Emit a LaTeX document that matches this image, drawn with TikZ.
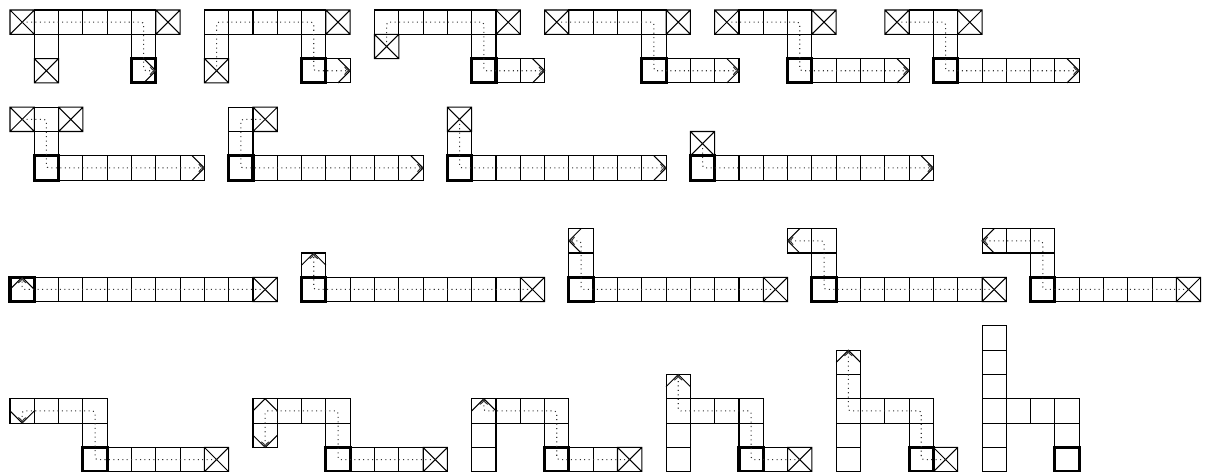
\documentclass[tikz,border=0pt]{standalone}
\usetikzlibrary{arrows.meta}

\tikzset{
  cellline/.style={line width=0.6pt},
  pivotline/.style={line width=1.8pt},
  walk/.style={dotted, line width=0.6pt, black!80, rounded corners=1.5pt, -{To[length=3.5pt,width=5pt]}},
}
% o vuong, o chet, o chot
\newcommand{\sq}[2]{\draw[cellline] (#1,#2) rectangle ++(1,1);}
\newcommand{\xsq}[2]{\draw[cellline] (#1,#2) rectangle ++(1,1) (#1,#2) -- ++(1,1) ++(0,-1) -- ++(-1,1);}
\newcommand{\pivot}[2]{\draw[pivotline] (#1,#2) rectangle ++(1,1);}
% dau mui ten trong o
\newcommand{\headR}[2]{\draw[cellline] (#1,#2) ++(0.5,0) -- ++(0.5,0.5) -- ++(-0.5,0.5);}
\newcommand{\headL}[2]{\draw[cellline] (#1,#2) ++(0.5,0) -- ++(-0.5,0.5) -- ++(0.5,0.5);}
\newcommand{\headU}[2]{\draw[cellline] (#1,#2) ++(0,0.5) -- ++(0.5,-0.5) -- ++(0.5,0.5);}
\newcommand{\headD}[2]{\draw[cellline] (#1,#2) ++(0,0.5) -- ++(0.5,0.5) -- ++(0.5,-0.5);}

\begin{document}
\begin{tikzpicture}[x=0.5cm, y=-0.5cm]
    \useasboundingbox (-0.4115,-0.4115) rectangle (49.465,19.012);

    % Hang 1
    \xsq{0}{0} \foreach \i in {1,...,5} {\sq{\i}{0}} \xsq{6}{0}
    \sq{1}{1} \sq{5}{1} \xsq{1}{2} \pivot{5}{2} \headR{5}{2}
    \draw[walk] (0.5,0.5) -- (5.5,0.5) -- (5.5,2.5) -- (6,2.5);

    \foreach \i in {8,...,12} {\sq{\i}{0}} \xsq{13}{0}
    \sq{8}{1} \sq{12}{1} \xsq{8}{2} \sq{13}{2} \headR{13}{2} \pivot{12}{2}
    \draw[walk] (8.5,2.5) -- (8.5,0.5) -- (12.5,0.5) -- (12.5,2.5) -- (14,2.5);

    \foreach \i in {15,...,19} {\sq{\i}{0}} \xsq{20}{0}
    \xsq{15}{1} \sq{19}{1} \sq{20}{2} \sq{21}{2} \headR{21}{2} \pivot{19}{2}
    \draw[walk] (15.5,1.5) -- (15.5,0.5) -- (19.5,0.5) -- (19.5,2.5) -- (22,2.5);

    \xsq{22}{0} \foreach \i in {23,...,26} {\sq{\i}{0}} \xsq{27}{0}
    \sq{26}{1} \foreach \i in {27,...,29} {\sq{\i}{2}} \headR{29}{2} \pivot{26}{2}
    \draw[walk] (22.5,0.5) -- (26.5,0.5) -- (26.5,2.5) -- (30,2.5);

    \xsq{29}{0} \foreach \i in {30,...,32} {\sq{\i}{0}} \xsq{33}{0}
    \sq{32}{1} \foreach \i in {33,...,36} {\sq{\i}{2}} \headR{36}{2} \pivot{32}{2}
    \draw[walk] (29.5,0.5) -- (32.5,0.5) -- (32.5,2.5) -- (37,2.5);

    \xsq{36}{0} \sq{37}{0} \sq{38}{0} \xsq{39}{0}
    \sq{38}{1} \foreach \i in {39,...,43} {\sq{\i}{2}} \headR{43}{2} \pivot{38}{2}
    \draw[walk] (36.5,0.5) -- (38.5,0.5) -- (38.5,2.5) -- (44,2.5);

    % Hang 2
    \xsq{0}{4} \sq{1}{4} \xsq{2}{4} \sq{1}{5}
    \foreach \i in {2,...,7} {\sq{\i}{6}} \headR{7}{6} \pivot{1}{6}
    \draw[walk] (0.5,4.5) -- (1.5,4.5) -- (1.5,6.5) -- (8,6.5);

    \sq{9}{4} \xsq{10}{4} \sq{9}{5}
    \foreach \i in {10,...,16} {\sq{\i}{6}} \headR{16}{6} \pivot{9}{6}
    \draw[walk] (10.5,4.5) -- (9.5,4.5) -- (9.5,6.5) -- (17,6.5);

    \xsq{18}{4} \sq{18}{5}
    \foreach \i in {19,...,26} {\sq{\i}{6}} \headR{26}{6} \pivot{18}{6}
    \draw[walk] (18.5,4.5) -- (18.5,6.5) -- (27,6.5);

    \xsq{28}{5}
    \foreach \i in {29,...,37} {\sq{\i}{6}} \headR{37}{6} \pivot{28}{6}
    \draw[walk] (28.5,5.5) -- (28.5,6.5) -- (38,6.5);

    % Hang 3
    \foreach \i in {1,...,9} {\sq{\i}{11}} \xsq{10}{11} \headU{0}{11} \pivot{0}{11}
    \draw[walk] (10.5,11.5) -- (0.5,11.5) -- (0.5,11);

    \sq{12}{10} \headU{12}{10}
    \foreach \i in {13,...,20} {\sq{\i}{11}} \xsq{21}{11} \pivot{12}{11}
    \draw[walk] (21.5,11.5) -- (12.5,11.5) -- (12.5,10);

    \sq{23}{9} \headL{23}{9} \sq{23}{10}
    \foreach \i in {24,...,30} {\sq{\i}{11}} \xsq{31}{11} \pivot{23}{11}
    \draw[walk] (31.5,11.5) -- (23.5,11.5) -- (23.5,9.5) -- (23,9.5);

    \sq{32}{9} \headL{32}{9} \sq{33}{9} \sq{33}{10}
    \foreach \i in {34,...,39} {\sq{\i}{11}} \xsq{40}{11} \pivot{33}{11}
    \draw[walk] (40.5,11.5) -- (33.5,11.5) -- (33.5,9.5) -- (32,9.5);

    \sq{40}{9} \headL{40}{9} \sq{41}{9} \sq{42}{9} \sq{42}{10}
    \foreach \i in {43,...,47} {\sq{\i}{11}} \xsq{48}{11} \pivot{42}{11}
    \draw[walk] (48.5,11.5) -- (42.5,11.5) -- (42.5,9.5) -- (40,9.5);

    % Hang 4
    \foreach \i in {0,...,3} {\sq{\i}{16}} \headD{0}{16} \sq{3}{17}
    \foreach \i in {4,...,7} {\sq{\i}{18}} \xsq{8}{18} \pivot{3}{18}
    \draw[walk] (8.5,18.5) -- (3.5,18.5) -- (3.5,16.5) -- (0.5,16.5) -- (0.5,17);

    \foreach \i in {10,...,13} {\sq{\i}{16}} \headU{10}{16} \sq{10}{17} \headD{10}{17} \sq{13}{17}
    \foreach \i in {14,...,16} {\sq{\i}{18}} \xsq{17}{18} \pivot{13}{18}
    \draw[walk] (17.5,18.5) -- (13.5,18.5) -- (13.5,16.5) -- (10.5,16.5) -- (10.5,18);

    \foreach \j in {16,...,18} {\sq{19}{\j}} \headU{19}{16}
    \foreach \i in {20,...,22} {\sq{\i}{16}} \sq{22}{17}
    \sq{23}{18} \sq{24}{18} \xsq{25}{18} \pivot{22}{18}
    \draw[walk] (25.5,18.5) -- (22.5,18.5) -- (22.5,16.5) -- (19.5,16.5) -- (19.5,16);

    \foreach \j in {15,...,18} {\sq{27}{\j}} \headU{27}{15}
    \foreach \i in {28,...,30} {\sq{\i}{16}} \sq{30}{17}
    \sq{31}{18} \xsq{32}{18} \pivot{30}{18}
    \draw[walk] (32.5,18.5) -- (30.5,18.5) -- (30.5,16.5) -- (27.5,16.5) -- (27.5,15);

    \foreach \j in {14,...,18} {\sq{34}{\j}} \headU{34}{14}
    \foreach \i in {35,...,37} {\sq{\i}{16}} \sq{37}{17}
    \xsq{38}{18} \pivot{37}{18}
    \draw[walk] (38.5,18.5) -- (37.5,18.5) -- (37.5,16.5) -- (34.5,16.5) -- (34.5,14);

    \foreach \j in {13,...,18} {\sq{40}{\j}}
    \foreach \i in {41,...,43} {\sq{\i}{16}} \sq{43}{17} \pivot{43}{18}

\end{tikzpicture}
\end{document}
